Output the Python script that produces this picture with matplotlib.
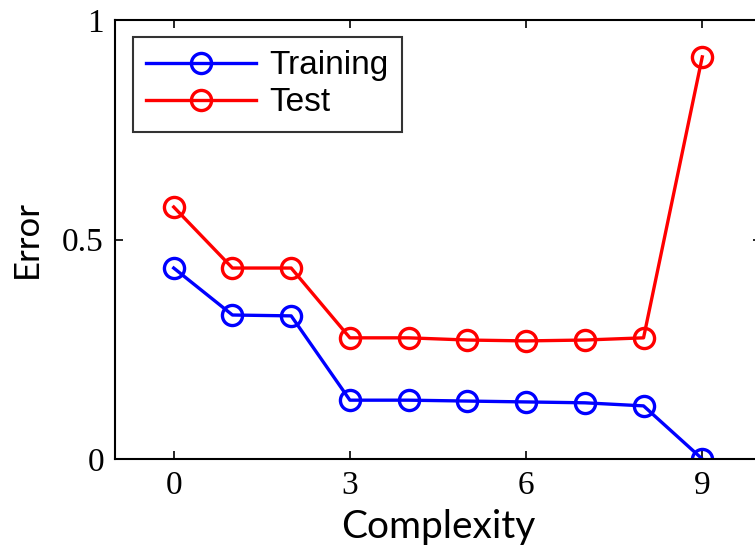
import numpy as np
import matplotlib
matplotlib.use('Agg')
import matplotlib.pyplot as plt

complexity = [0, 1, 2, 3, 4, 5, 6, 7, 8, 9]
train_err = [0.435, 0.328, 0.326, 0.134, 0.134, 0.132, 0.130, 0.128, 0.121, 0.0]
test_err = [0.574, 0.435, 0.435, 0.276, 0.276, 0.271, 0.269, 0.271, 0.276, 0.916]
xticks = [0, 3, 6, 9]
yticks = [0, 0.5, 1]
ytick_labels = ['0', '0.5', '1']

fig = plt.figure(figsize=(7.55, 5.49), dpi=100)
# axes runs a little past the right edge of the figure, like the original crop
ax = fig.add_axes([115 / 755, 90 / 549, 646 / 755, 439 / 549])

ax.plot(complexity, train_err, color='blue', marker='o', markersize=14.5,
        markerfacecolor='none', markeredgewidth=2.4, linewidth=2.4, label='Training')
ax.plot(complexity, test_err, color='red', marker='o', markersize=14.5,
        markerfacecolor='none', markeredgewidth=2.4, linewidth=2.4, label='Test')

ax.set_xlim(-1, 10)
ax.set_ylim(0, 1)
ax.set_xticks(xticks)
ax.set_yticks(yticks)
ax.set_yticklabels(ytick_labels)
ax.tick_params(direction='in', length=6, width=1.2, top=True, right=True,
               labelsize=24, pad=8)
for lab in ax.get_xticklabels() + ax.get_yticklabels():
    lab.set_family('Liberation Serif')
for sp in ax.spines.values():
    sp.set_linewidth(1.5)

ax.set_xlabel('Complexity', family='Lato', fontsize=28, labelpad=6)
ax.set_ylabel('Error', family='Lato', fontsize=25, labelpad=14)

leg = ax.legend(loc='upper left', bbox_to_anchor=(18 / 646, 1 - 17 / 439),
                borderaxespad=0,
                prop={'family': 'Liberation Sans', 'size': 24},
                frameon=True, fancybox=False, edgecolor='black',
                handlelength=3.3, handletextpad=0.4, borderpad=0.4,
                labelspacing=0.18)
leg.get_frame().set_linewidth(1.5)

fig.savefig('out.png', dpi=100)
